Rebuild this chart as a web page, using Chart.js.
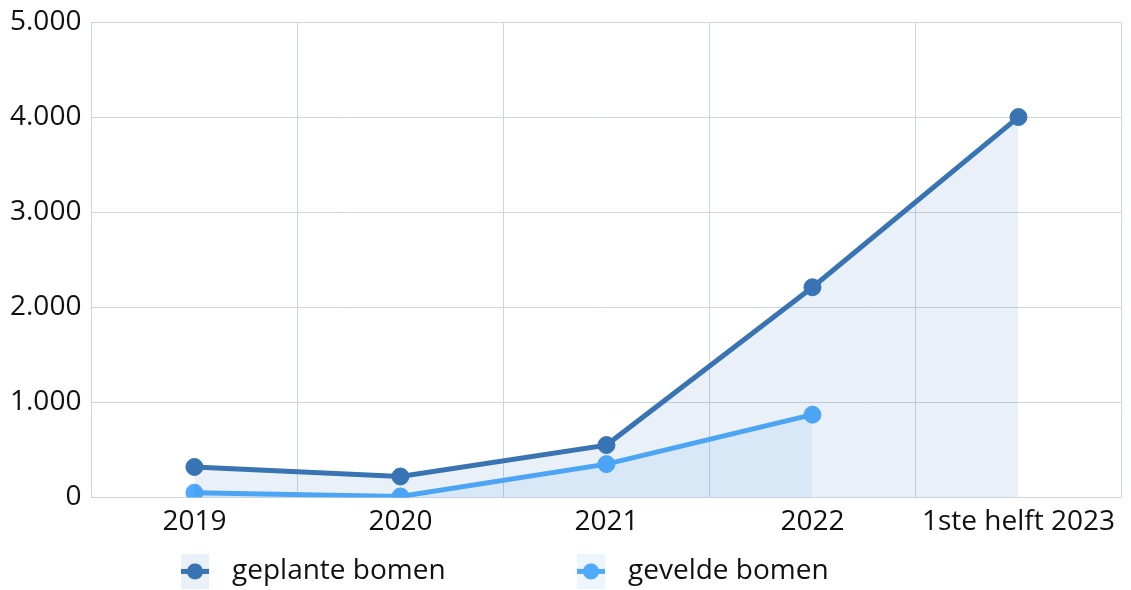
<!DOCTYPE html>
<html lang="nl">
<head>
    <meta charset="UTF-8">
    <title>Bomen geplant en geveld</title>
    <script src="https://cdn.jsdelivr.net/npm/chart.js"></script>
    <style>
        body {
            margin: 0;
            padding: 0;
            background: #fff;
        }
        .container {
            width: 1131px;
            height: 590px;
            position: relative;
        }
    </style>
</head>
<body>
    <div class="container">
        <canvas id="bomenChart"></canvas>
    </div>

    <script>
        // data
        const categories = ['2019', '2020', '2021', '2022', '1ste helft 2023'];
        const geplant = [320, 220, 550, 2210, 4000];
        const geveld = [50, 10, 350, 870, null];
        const yTicks = [0, 1000, 2000, 3000, 4000, 5000];

        const DARK = '#3873b3';
        const LIGHT = '#4eaafc';
        const FONT = '"Open Sans", "Noto Sans", sans-serif';
        const FONT_SIZE = 28;

        // legend symbol: filled box with line + dot
        function legendIcon(line, bg) {
            const c = document.createElement('canvas');
            c.width = 28;
            c.height = 35;
            const g = c.getContext('2d');
            g.fillStyle = bg;
            g.fillRect(0, 0, 28, 35);
            g.strokeStyle = line;
            g.lineWidth = 5;
            g.beginPath();
            g.moveTo(0, 17.5);
            g.lineTo(28, 17.5);
            g.stroke();
            g.fillStyle = line;
            g.beginPath();
            g.arc(14, 17.5, 8, 0, Math.PI * 2);
            g.fill();
            return c;
        }

        const thousands = v => String(v).replace(/\B(?=(\d{3})+(?!\d))/g, '.');

        // the legend of the original sits in fixed slots below the axis
        const legendSlots = [181, 577];
        const bottomLegend = {
            id: 'bottomLegend',
            afterDraw(chart) {
                const g = chart.ctx;
                const y = chart.chartArea.bottom + 74;
                g.save();
                g.font = FONT_SIZE + 'px ' + FONT;
                g.fillStyle = '#111';
                g.textBaseline = 'middle';
                chart.data.datasets.forEach((ds, i) => {
                    const x = legendSlots[i];
                    g.drawImage(legendIcon(ds.borderColor, ds.backgroundColor), x, y - 17.5);
                    g.fillText(ds.label, x + 51, y);
                });
                g.restore();
            }
        };

        const ctx = document.getElementById('bomenChart').getContext('2d');
        const chart = new Chart(ctx, {
            type: 'line',
            data: {
                labels: categories,
                datasets: [{
                    label: 'geplante bomen',
                    data: geplant,
                    borderColor: DARK,
                    backgroundColor: 'rgba(56,115,179,0.11)',
                    pointBackgroundColor: DARK,
                    pointBorderColor: DARK,
                    borderWidth: 5,
                    pointRadius: 8.5,
                    pointBorderWidth: 1,
                    fill: 'origin',
                    tension: 0
                }, {
                    label: 'gevelde bomen',
                    data: geveld,
                    borderColor: LIGHT,
                    backgroundColor: 'rgba(78,170,252,0.1)',
                    pointBackgroundColor: LIGHT,
                    pointBorderColor: LIGHT,
                    borderWidth: 5,
                    pointRadius: 8.5,
                    pointBorderWidth: 1,
                    fill: 'origin',
                    tension: 0
                }]
            },
            options: {
                responsive: true,
                maintainAspectRatio: false,
                animation: false,
                layout: { padding: { top: 22, right: 1, left: 0, bottom: 43 } },
                scales: {
                    x: {
                        offset: true,
                        afterFit: axis => {
                            axis.paddingLeft = 0;
                            axis.paddingRight = 0;
                        },
                        grid: { color: '#cdd6e0', offset: true, drawTicks: false },
                        border: { color: '#cdd6e0' },
                        ticks: {
                            color: '#111',
                            padding: 8,
                            maxRotation: 0,
                            font: { family: FONT, size: FONT_SIZE }
                        }
                    },
                    y: {
                        min: 0,
                        max: 5000,
                        afterFit: axis => {
                            axis.paddingTop = 0;
                            axis.paddingBottom = 0;
                        },
                        afterBuildTicks: axis => {
                            axis.ticks = yTicks.map(v => ({ value: v }));
                        },
                        grid: { color: '#cdd6e0', drawTicks: false },
                        border: { color: '#cdd6e0' },
                        ticks: {
                            color: '#111',
                            padding: 10,
                            font: { family: FONT, size: FONT_SIZE },
                            callback: v => thousands(v)
                        }
                    }
                },
                plugins: {
                    legend: { display: false },
                    tooltip: { enabled: false }
                }
            },
            plugins: [bottomLegend]
        });
    </script>
</body>
</html>
